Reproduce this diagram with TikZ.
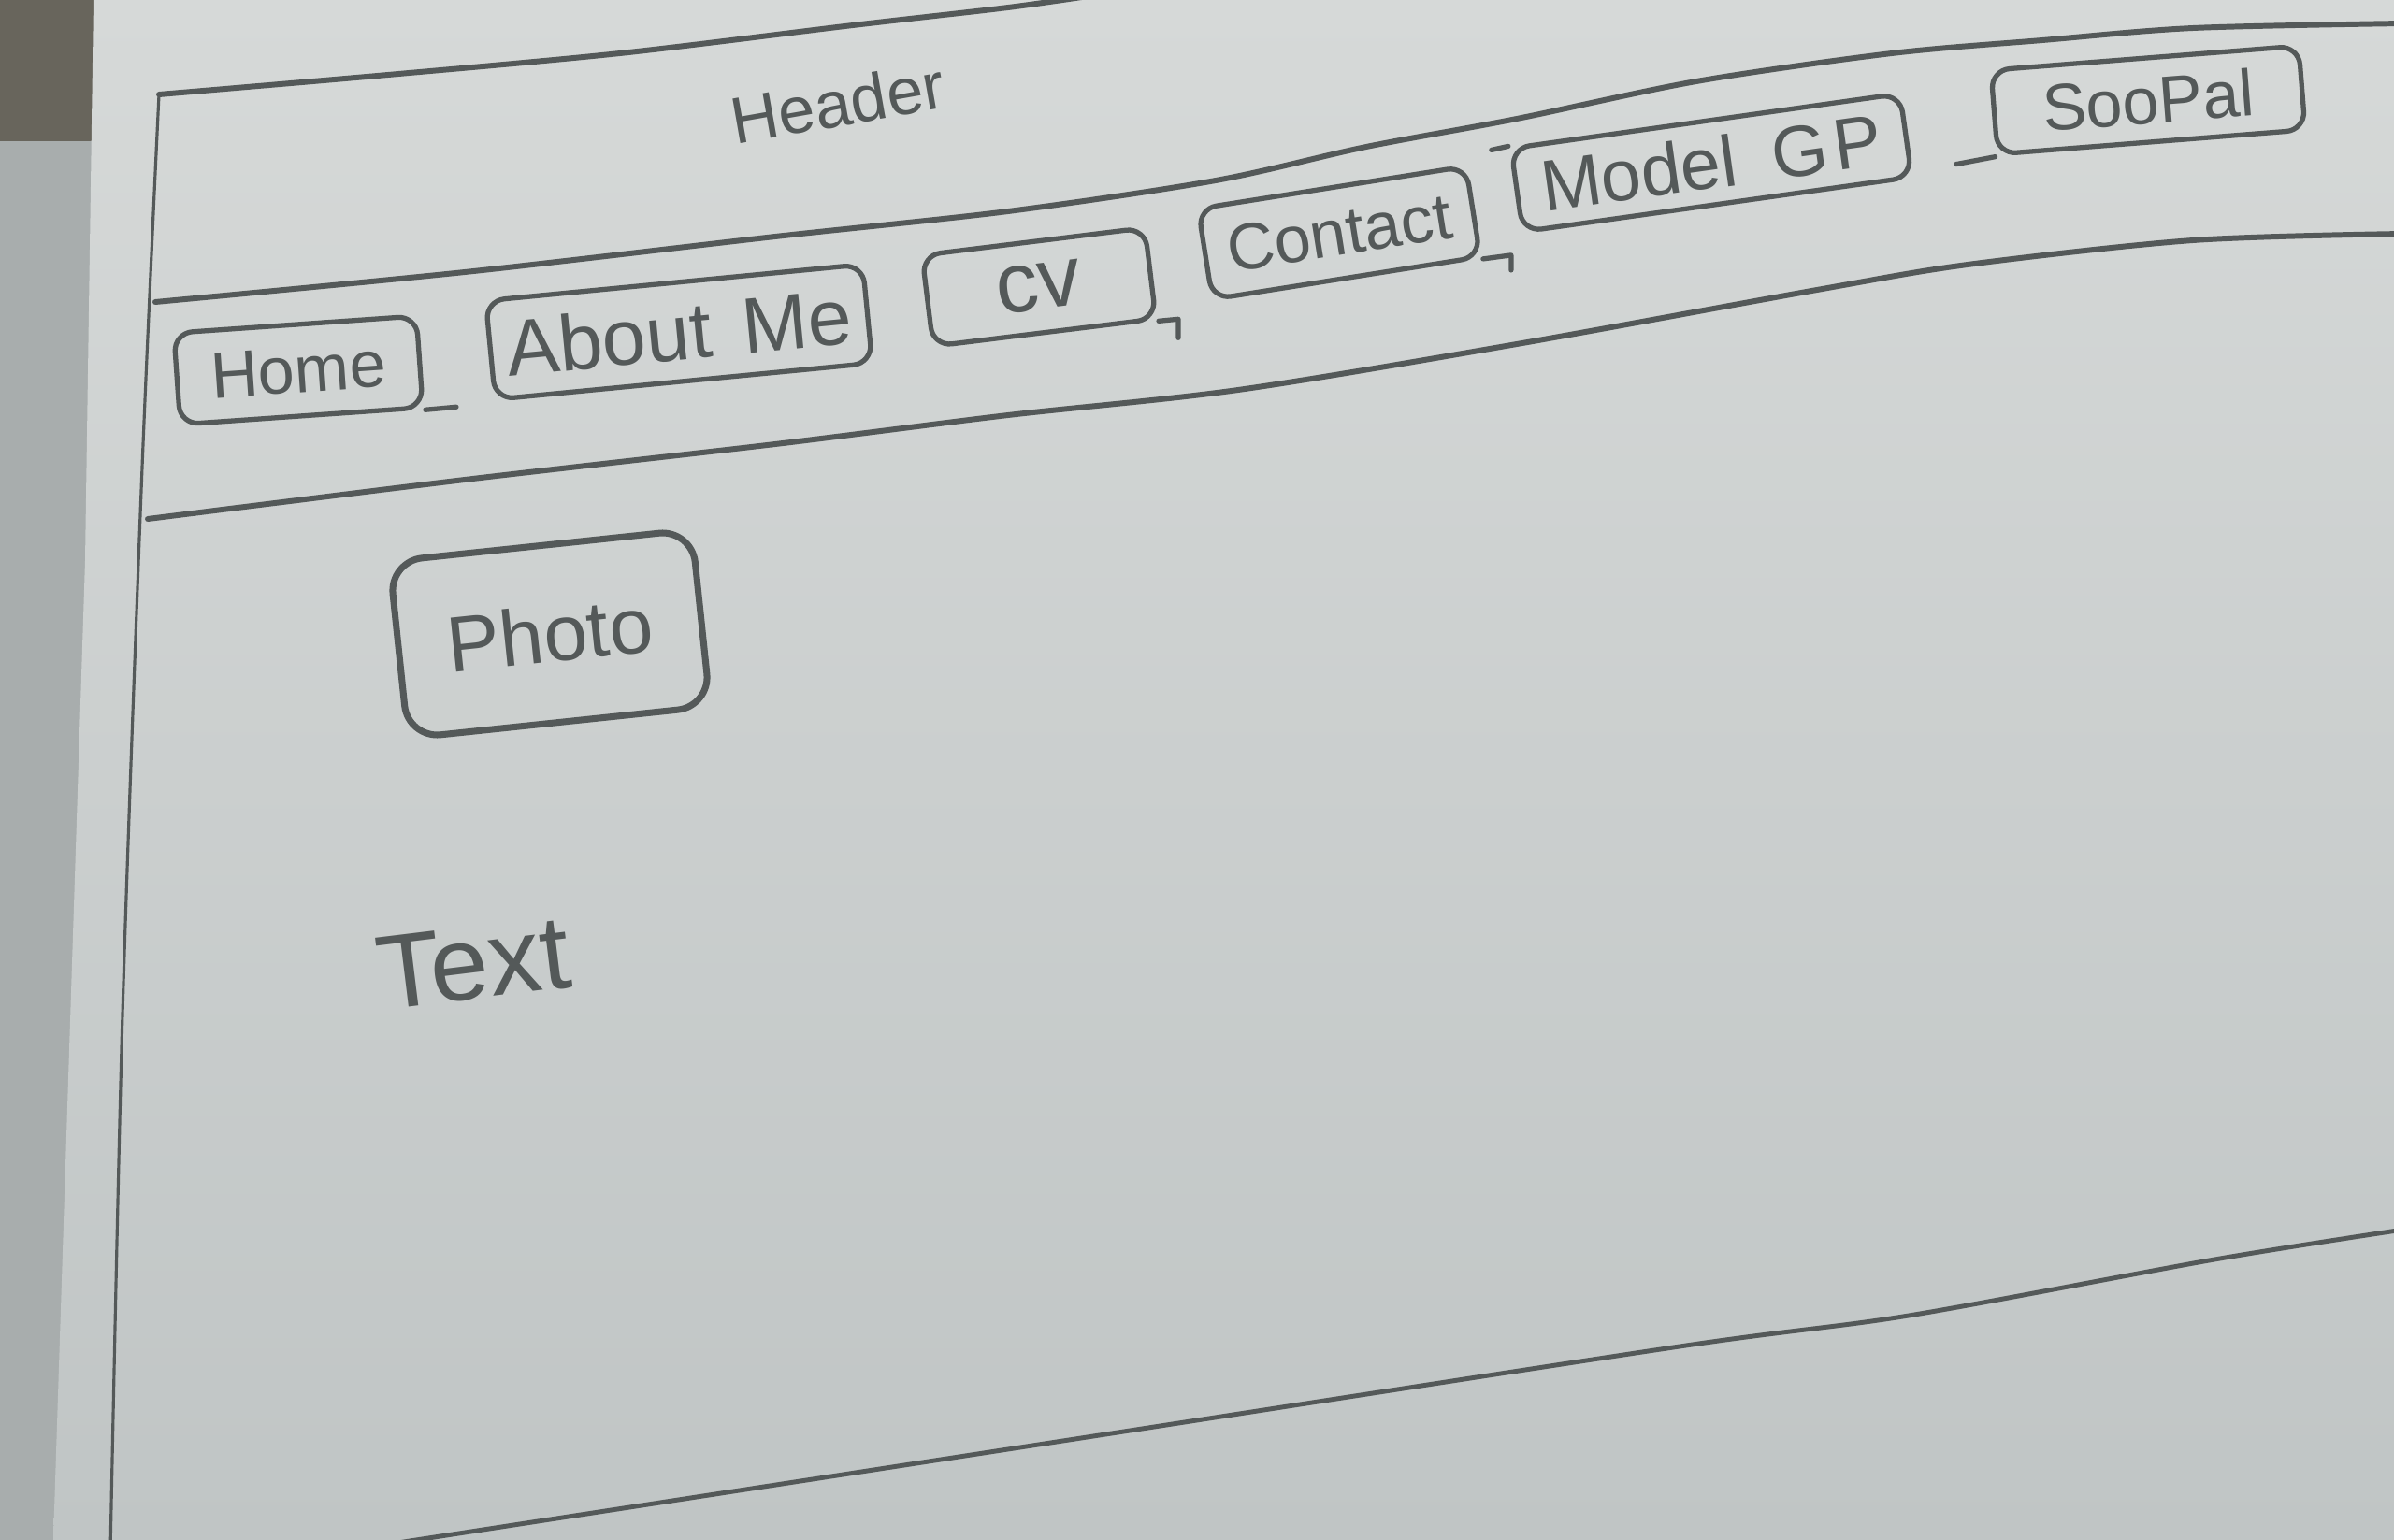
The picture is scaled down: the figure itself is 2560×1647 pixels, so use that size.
\documentclass[tikz,border=0pt]{standalone}
\usepackage{fontspec}
\setmainfont{Liberation Sans}
\usetikzlibrary{positioning}

\definecolor{pencil}{RGB}{84,89,89}
\definecolor{paperlight}{RGB}{214,217,216}
\definecolor{paperdark}{RGB}{192,197,197}
\definecolor{deskdark}{RGB}{104,101,92}
\definecolor{deskgrey}{RGB}{168,173,173}

\newcommand{\handsize}[1]{\fontsize{#1}{#1}\selectfont}

\begin{document}
\begin{tikzpicture}[
  x=0.1mm, y=-0.1mm,
  sketch/.style   ={draw=pencil, line width=1.7pt, line cap=round, line join=round},
  navbtn/.style   ={draw=pencil, line width=1.5pt, rounded corners=2mm, inner sep=0pt,
                    text=pencil, font=\handsize{20pt}},
  scribble/.style ={text=pencil, inner sep=0pt}
]

\useasboundingbox (0,0) rectangle (2560,1647);

%--- desk and sheet ---------------------------------------------------------
\fill[deskgrey] (0,0) rectangle (2560,1647);
\fill[deskdark] (0,0) rectangle (100,151);
\shade[top color=paperlight, bottom color=paperdark]
  (100,0) -- (2560,0) -- (2560,1647) -- (57,1647) -- (91,600) -- cycle;

%--- page frame and bands ---------------------------------------------------
\draw[sketch] plot[smooth] coordinates {(170,101) (415,80) (663,57) (912,27) (1078,8) (1170,-5)};
\draw[sketch, line width=0.9pt] plot[smooth] coordinates {(170,101) (152,500) (131,1085) (118,1660)};
\draw[sketch] plot[smooth] coordinates {(166,323) (497,291) (829,253) (1078,226) (1300,193)
  (1461,157) (1622,127) (1814,87) (2023,57) (2184,43) (2345,30) (2570,25)};
\draw[sketch] plot[smooth] coordinates {(158,555) (497,513) (829,475) (1078,444) (1324,417)
  (1622,368) (1943,310) (2104,283) (2345,257) (2570,250)};
\draw[sketch, line width=1.4pt] plot[smooth] coordinates {(360,1660) (1143,1540) (1796,1440)
  (2041,1407) (2368,1347) (2570,1315)};

%--- header ---------------------------------------------------------------
\node[scribble, font=\handsize{20pt}, rotate=10] (header) at (896,110) {Header};

%--- navigation buttons ----------------------------------------------------
\node[navbtn, minimum width=26mm, minimum height=9.8mm, rotate=4] (home) at (319,396) {Home};
\node[navbtn, minimum width=40.5mm, minimum height=10.6mm, rotate=5.5, font=\handsize{24pt}]
  (aboutme) at (726,355) {About\hspace{0.4em}Me};
\node[navbtn, minimum width=24mm, minimum height=9.8mm, rotate=7, font=\handsize{26pt}]
  (cv) at (1111,307) {cv};
\node[navbtn, minimum width=29mm, minimum height=9.8mm, rotate=9] (contact) at (1432,249) {Contact};
\node[navbtn, minimum width=42mm, minimum height=9mm, rotate=8, font=\handsize{22pt}]
  (modelgp) at (1830,174) {Model\hspace{0.5em}G\kern0.08em P};
\node[navbtn, minimum width=33mm, minimum height=9mm, rotate=4.5] (soopal) at (2297,107) {SooPal};

%--- loose pencil strokes ---------------------------------------------------
\draw[sketch, line width=1.5pt] (home.south east) -- ++(33,-3);
\draw[sketch, line width=1.5pt] (cv.south east) -- ++(21,-2) -- ++(0,20);
\draw[sketch, line width=1.5pt] (contact.south east) -- ++(30,-4) -- ++(0,16);
\draw[sketch, line width=1.5pt] (modelgp.north west) -- ++(-18,4);
\draw[sketch, line width=1.5pt] (soopal.south west) -- ++(-42,8);

%--- content ---------------------------------------------------------------
\node[navbtn, line width=2pt, rounded corners=3.5mm, minimum width=32.5mm, minimum height=19mm,
  rotate=6, font=\handsize{24pt}] (photo) at (588,678) {Photo};
\node[scribble, font=\handsize{32pt}, rotate=7] (text) at (506,1030) {Text};
\end{tikzpicture}
\end{document}
